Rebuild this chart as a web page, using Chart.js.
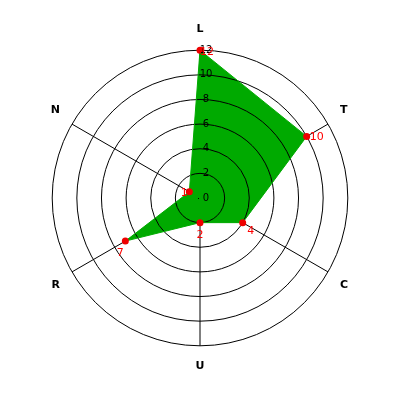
<!DOCTYPE html>
<html>
<head>
<meta charset="utf-8">
<script src="https://cdn.jsdelivr.net/npm/chart.js@4/dist/chart.umd.min.js"></script>
<style>
  html, body { margin: 0; padding: 0; background: #fff; }
</style>
</head>
<body>
<canvas id="radar" width="400" height="400"></canvas>
<script>
var labels = ['L', 'T', 'C', 'U', 'R', 'N'];
var values = [12, 10, 4, 2, 7, 1];
var tickValues = [0, 2, 4, 6, 8, 10, 12];
var tickMin = 0;
var tickMax = 12;
var tickStep = 2;

// offsets for the red value labels, one per axis
var valueOffsets = [[7, 2], [10, 1], [8, 9], [0, 13], [-5, 12], [-5, 1]];

// circles go over the green area, angle lines stay under it
var gridOverFill = {
    id: 'gridOverFill',
    beforeDatasetDraw: function(chart){
        var ctx = chart.ctx;
        var r = chart.scales.r;
        ctx.save();
        ctx.strokeStyle = '#000';
        ctx.lineWidth = 1;
        for(var i = 1; i < tickValues.length; i++){
            var d = r.getDistanceFromCenterForValue(tickValues[i]);
            ctx.beginPath();
            ctx.arc(r.xCenter, r.yCenter, d, 0, Math.PI * 2);
            ctx.stroke();
        }
        ctx.restore();
    },
    afterDraw: function(chart){
        var ctx = chart.ctx;
        var r = chart.scales.r;
        var pts = chart.getDatasetMeta(0).data;
        ctx.save();
        ctx.textAlign = 'center';
        ctx.textBaseline = 'middle';
        ctx.fillStyle = '#000';
        ctx.font = '10px "DejaVu Sans"';
        for(var i = 0; i < tickValues.length; i++){
            var d = r.getDistanceFromCenterForValue(tickValues[i]);
            ctx.fillText(String(tickValues[i]), r.xCenter + 6, r.yCenter - d);
        }
        ctx.fillRect(r.xCenter - 2, r.yCenter, 1, 1);

        ctx.fillStyle = '#ff0000';
        ctx.font = '11px "DejaVu Sans"';
        for(var j = 0; j < pts.length; j++){
            var o = valueOffsets[j];
            ctx.fillText(String(values[j]), pts[j].x + o[0], pts[j].y + o[1]);
        }
        ctx.restore();
    }
};

new Chart(document.getElementById('radar'), {
    type: 'radar',
    data: {
        labels: labels,
        datasets: [{
            data: values,
            backgroundColor: 'rgb(0,170,0)',
            borderColor: 'rgb(0,170,0)',
            borderWidth: 1,
            fill: true,
            pointRadius: 3.5,
            pointBackgroundColor: '#ee0000',
            pointBorderColor: '#ee0000',
            pointBorderWidth: 0
        }]
    },
    options: {
        responsive: false,
        animation: false,
        devicePixelRatio: 1,
        layout: { padding: { top: 23, bottom: 27, left: 36, right: 35 } },
        plugins: { legend: { display: false }, tooltip: { enabled: false } },
        scales: {
            r: {
                min: tickMin,
                max: tickMax,
                ticks: { stepSize: tickStep, display: false },
                grid: { display: false },
                angleLines: { color: '#000', lineWidth: 1 },
                pointLabels: {
                    color: '#000',
                    padding: 14,
                    font: { family: 'DejaVu Sans', size: 11, weight: 'bold' }
                }
            }
        }
    },
    plugins: [gridOverFill]
});
</script>
</body>
</html>
